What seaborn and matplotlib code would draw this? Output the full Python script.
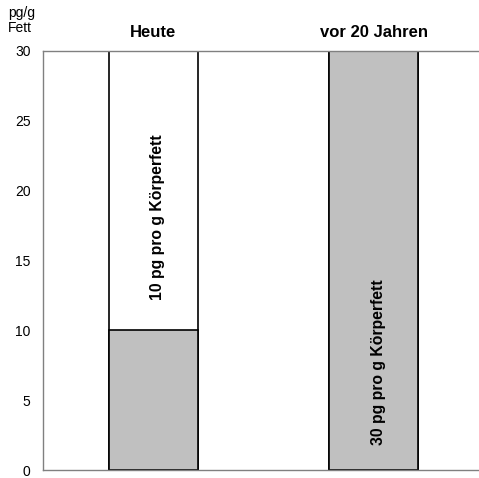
import matplotlib
matplotlib.use("Agg")
import matplotlib.pyplot as plt
import seaborn as sns
import pandas as pd

categories = ["Heute", "vor 20 Jahren"]
total = [30, 30]
grau_anteil = [10, 30]
bar_labels = ["10 pg pro g Körperfett", "30 pg pro g Körperfett"]
label_y = [18.1, 7.7]
yticks = [0, 5, 10, 15, 20, 25, 30]

sns.set_style("white")
plt.rcParams['font.family'] = ['Liberation Sans', 'DejaVu Sans']
plt.rcParams['text.color'] = 'black'
plt.rcParams['ytick.labelcolor'] = 'black'

df = pd.DataFrame({"kat": categories, "total": total, "grau": grau_anteil})

fig = plt.figure(figsize=(4.79, 4.78), dpi=100)
ax = fig.add_axes([43 / 479, 8 / 478, 441 / 479, 419 / 478])

# oberer Teil (weiss bei Heute), dann grauer Anteil drueber
sns.barplot(data=df, x="kat", y="total", hue="kat", palette=["white", "#C0C0C0"],
            width=0.403, edgecolor="black", linewidth=1.2, legend=False, ax=ax)
sns.barplot(data=df, x="kat", y="grau", color="#C0C0C0", saturation=1,
            width=0.403, edgecolor="black", linewidth=1.2, ax=ax)

ax.set_xlim(-0.5, 1.5)
ax.set_ylim(0, 30)
ax.set_yticks(yticks)
ax.set_yticklabels([str(t) for t in yticks], fontsize=10, color="black")
ax.set_xticks([])
ax.set_xlabel("")
ax.set_ylabel("")
ax.tick_params(axis="y", direction="out", length=5, width=1, color="#808080", pad=4)

for side in ["left", "bottom", "top"]:
    ax.spines[side].set_color("#808080")
    ax.spines[side].set_linewidth(1)
ax.spines["right"].set_visible(False)

for i, cat in enumerate(categories):
    ax.text(i, 31.3, cat, ha="center", va="center", fontsize=12,
            fontweight="bold", color="black", clip_on=False)
    ax.text(i + 0.02, label_y[i], bar_labels[i], rotation=90, ha="center",
            va="center", fontsize=11.3, fontweight="bold", color="black")

fig.text(8 / 479, 1 - 13 / 478, "pg/g", ha="left", va="center", fontsize=10, color="black")
fig.text(8 / 479, 1 - 28 / 478, "Fett", ha="left", va="center", fontsize=10, color="black")

fig.savefig("out.png", dpi=100)
